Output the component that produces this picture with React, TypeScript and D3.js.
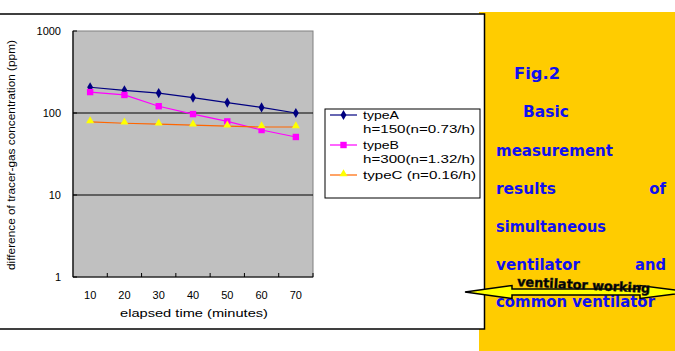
import React from "react";
import * as d3 from "d3";

const categories = ["10", "20", "30", "40", "50", "60", "70"];
const typeA = [206, 189, 175, 154, 134, 117, 100];
const typeB = [180, 166, 121, 97, 79, 62, 51];
const typeC = [78, 75, 73, 71, 69, 67.5, 67.5];
const yTicks = [1, 10, 100, 1000];
const seriesNames = ["typeA", "typeB", "typeC"];
const legendLines = [
  ["typeA", "h=150(n=0.73/h)"],
  ["typeB", "h=300(n=1.32/h)"],
  ["typeC (n=0.16/h)"],
];

const W = 675, H = 351;
const plot = { left: 73, right: 313, top: 31, bottom: 277 };

export default function App() {
  const x = d3.scaleBand<string>().domain(categories).range([plot.left, plot.right]).padding(0);
  const y = d3.scaleLog().domain([1, 1000]).range([plot.bottom, plot.top]);
  const cx = (c: string) => (x(c) as number) + x.bandwidth() / 2;
  const line = d3.line<number>().x((_, i) => cx(categories[i])).y((d) => y(d));

  const series = [
    { name: seriesNames[0], data: typeA, color: "#000080", marker: "diamond", mcolor: "#000080" },
    { name: seriesNames[1], data: typeB, color: "#FF00FF", marker: "square", mcolor: "#FF00FF" },
    { name: seriesNames[2], data: typeC, color: "#FF6600", marker: "triangle", mcolor: "#FFFF00" },
  ];

  const marker = (type: string, px: number, py: number, color: string, key: string) => {
    if (type === "diamond") {
      const s = d3.symbol().type(d3.symbolDiamond).size(30)();
      return <path key={key} d={s as string} transform={`translate(${px},${py})`} fill={color} />;
    }
    if (type === "square") {
      return <rect key={key} x={px - 3.2} y={py - 3.2} width={6.4} height={6.4} fill={color} />;
    }
    const s = d3.symbol().type(d3.symbolTriangle).size(28)();
    return <path key={key} d={s as string} transform={`translate(${px},${py - 1})`} fill={color} />;
  };

  const legendRows = [
    { s: 0, text: legendLines[0][0], y: 119 },
    { s: -1, text: legendLines[0][1], y: 133 },
    { s: 1, text: legendLines[1][0], y: 149 },
    { s: -1, text: legendLines[1][1], y: 163 },
    { s: 2, text: legendLines[2][0], y: 179 },
  ];
  const legendLen: Record<string, number> = {
    typeA: 36, typeB: 36, "h=150(n=0.73/h)": 112, "h=300(n=1.32/h)": 112, "typeC (n=0.16/h)": 113,
  };

  const blue = "#1010F0";
  const yTxt = { fontFamily: "DejaVu Sans, sans-serif", fontWeight: 700, fontSize: 15, fill: blue };

  return (
    <svg width={W} height={H} style={{ position: "absolute", left: 0, top: 0, background: "#fff" }}>
      {/* yellow panel */}
      <rect x={479} y={12} width={196} height={339} fill="#FFCC00" />
      {/* white chart frame */}
      <rect x={-1} y={14} width={485.5} height={315} fill="#fff" stroke="#000" strokeWidth={1.5} />

      {/* plot area */}
      <rect x={plot.left} y={plot.top} width={plot.right - plot.left} height={plot.bottom - plot.top} fill="#C0C0C0" stroke="#808080" strokeWidth={1} />
      {yTicks.filter((t) => t > 1 && t < 1000).map((t) => (
        <line key={t} x1={plot.left} x2={plot.right} y1={y(t)} y2={y(t)} stroke="#000" strokeWidth={1} />
      ))}
      <line x1={plot.left} x2={plot.left} y1={plot.top} y2={plot.bottom} stroke="#000" strokeWidth={1.2} />
      <line x1={plot.left} x2={plot.right} y1={plot.bottom} y2={plot.bottom} stroke="#000" strokeWidth={1.2} />
      {categories.map((c) => (
        <line key={c} x1={(x(c) as number) + x.bandwidth()} x2={(x(c) as number) + x.bandwidth()} y1={plot.bottom} y2={plot.bottom - 4} stroke="#000" />
      ))}
      {yTicks.map((t) => (
        <line key={t} x1={plot.left} x2={plot.left + 4} y1={y(t)} y2={y(t)} stroke="#000" />
      ))}

      {/* y tick labels */}
      {yTicks.map((t) => (
        <text key={t} x={61} y={y(t) + 4} textAnchor="end" fontFamily="Liberation Sans, Arial, sans-serif" fontSize={11}>{t}</text>
      ))}
      {/* x tick labels */}
      {categories.map((c) => (
        <text key={c} x={cx(c)} y={299} textAnchor="middle" fontFamily="Liberation Sans, Arial, sans-serif" fontSize={11}>{c}</text>
      ))}
      <text x={194} y={317} textAnchor="middle" fontFamily="Liberation Sans, Arial, sans-serif" fontSize={10} textLength={148} lengthAdjust="spacingAndGlyphs">elapsed time (minutes)</text>
      <text transform={`translate(15,155) rotate(-90)`} textAnchor="middle" fontFamily="Liberation Sans, Arial, sans-serif" fontSize={10} textLength={230} lengthAdjust="spacingAndGlyphs">difference of tracer-gas concentration (ppm)</text>

      {/* series */}
      {series.map((s) => (
        <g key={s.name}>
          <path d={line(s.data) as string} fill="none" stroke={s.color} strokeWidth={1.2} />
          {s.data.map((v, i) => marker(s.marker, cx(categories[i]), y(v), s.mcolor, `${s.name}${i}`))}
        </g>
      ))}

      {/* legend */}
      <rect x={325} y={109} width={155} height={89} fill="#fff" stroke="#000" strokeWidth={1} />
      {legendRows.map((r, i) => (
        <g key={i}>
          {r.s >= 0 && (
            <g>
              <line x1={330} x2={357} y1={r.y - 4} y2={r.y - 4} stroke={series[r.s].color} strokeWidth={1.2} />
              {marker(series[r.s].marker, 343.5, r.y - 4, series[r.s].mcolor, `lg${i}`)}
            </g>
          )}
          <text x={363} y={r.y} fontFamily="Liberation Sans, Arial, sans-serif" fontSize={11} textLength={legendLen[r.text]} lengthAdjust="spacingAndGlyphs">{r.text}</text>
        </g>
      ))}

      {/* yellow panel text */}
      <text x={514} y={79} {...yTxt} fontSize={16} textLength={46} lengthAdjust="spacingAndGlyphs">Fig.2</text>
      <text x={523} y={117} {...yTxt} textLength={46} lengthAdjust="spacingAndGlyphs">Basic</text>
      <text x={496} y={156} {...yTxt} textLength={117} lengthAdjust="spacingAndGlyphs">measurement</text>
      <text x={496} y={194} {...yTxt} textLength={60} lengthAdjust="spacingAndGlyphs">results</text>
      <text x={666} y={194} {...yTxt} textAnchor="end">of</text>
      <text x={496} y={232} {...yTxt} textLength={110} lengthAdjust="spacingAndGlyphs">simultaneous</text>
      <text x={496} y={270} {...yTxt} textLength={84} lengthAdjust="spacingAndGlyphs">ventilator</text>
      <text x={666} y={270} {...yTxt} textAnchor="end" textLength={31} lengthAdjust="spacingAndGlyphs">and</text>
      <text x={496} y={307} {...yTxt} textLength={159} lengthAdjust="spacingAndGlyphs">common ventilator</text>

      {/* double arrow */}
      <path d="M465,292 L512,285.5 L512,289 L640,289 L640,285.5 L690,292 L640,298.5 L640,295 L512,295 L512,298.5 Z" fill="#FFFF00" stroke="#000" strokeWidth={1.5} />
      <text transform="translate(517,286) rotate(3)" fontFamily="DejaVu Sans, sans-serif" fontWeight={700} fontSize={13} fill="#000" stroke="#222" strokeWidth={0.5} textLength={133} lengthAdjust="spacingAndGlyphs">ventilator  working</text>
    </svg>
  );
}
